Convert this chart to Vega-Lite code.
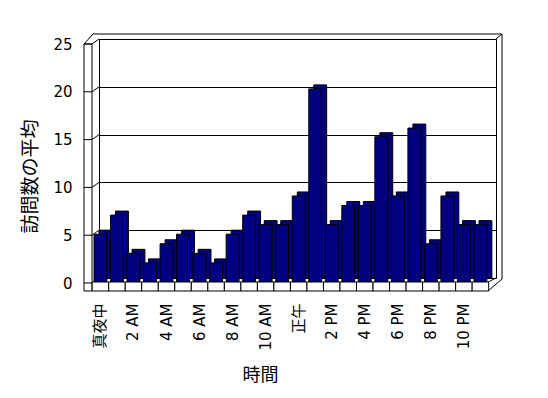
{
  "$schema": "https://vega.github.io/schema/vega-lite/v6.json",
  "width": 397,
  "height": 239,
  "autosize": {"type": "none"},
  "padding": {"left": 99, "top": 39, "right": 52, "bottom": 120},
  "background": "white",
  "config": {
    "view": {"stroke": "black", "strokeWidth": 1},
    "font": "DejaVu Sans, Noto Sans CJK JP",
    "axis": {"labelFont": "DejaVu Sans, Noto Sans CJK JP", "titleFont": "Noto Sans CJK JP", "labelColor": "black", "titleColor": "black"}
  },
  "datasets": {
    "visits": [
      {"hour": 0, "avg": 5}, {"hour": 1, "avg": 7}, {"hour": 2, "avg": 3}, {"hour": 3, "avg": 2},
      {"hour": 4, "avg": 4}, {"hour": 5, "avg": 5}, {"hour": 6, "avg": 3}, {"hour": 7, "avg": 2},
      {"hour": 8, "avg": 5}, {"hour": 9, "avg": 7}, {"hour": 10, "avg": 6}, {"hour": 11, "avg": 6},
      {"hour": 12, "avg": 9}, {"hour": 13, "avg": 20.2}, {"hour": 14, "avg": 6}, {"hour": 15, "avg": 8},
      {"hour": 16, "avg": 8}, {"hour": 17, "avg": 15.2}, {"hour": 18, "avg": 9}, {"hour": 19, "avg": 16.1},
      {"hour": 20, "avg": 4}, {"hour": 21, "avg": 9}, {"hour": 22, "avg": 6}, {"hour": 23, "avg": 6}
    ],
    "walls": [{"v": 0}, {"v": 5}, {"v": 10}, {"v": 15}, {"v": 20}, {"v": 25}]
  },
  "resolve": {"scale": {"x": "independent"}},
  "layer": [
    {
      "data": {"values": [{}]},
      "layer": [
        {
          "mark": {"type": "rect", "fill": "white", "stroke": "black", "strokeWidth": 1, "xOffset": -15, "x2Offset": -7, "yOffset": 5, "y2Offset": 13},
          "encoding": {
            "x": {"datum": 0, "type": "quantitative", "scale": {"domain": [0, 1]}, "axis": null},
            "x2": {"datum": 0},
            "y": {"datum": 25, "type": "quantitative"},
            "y2": {"datum": 0}
          }
        },
        {
          "data": {"name": "walls"},
          "mark": {"type": "rule", "color": "black", "strokeWidth": 1, "xOffset": -15, "x2Offset": -7, "yOffset": 5, "y2Offset": 5},
          "encoding": {
            "x": {"datum": 0, "type": "quantitative", "scale": {"domain": [0, 1]}, "axis": null},
            "x2": {"datum": 0},
            "y": {"field": "v", "type": "quantitative"},
            "y2": {"field": "v"}
          }
        },
        {
          "data": {"name": "walls"},
          "mark": {"type": "rule", "color": "black", "strokeWidth": 1, "xOffset": -7, "x2Offset": 0, "yOffset": 5, "y2Offset": 0},
          "encoding": {
            "x": {"datum": 0, "type": "quantitative", "scale": {"domain": [0, 1]}, "axis": null},
            "x2": {"datum": 0},
            "y": {"field": "v", "type": "quantitative"},
            "y2": {"field": "v"}
          }
        },
        {
          "mark": {"type": "rule", "color": "black", "strokeWidth": 1, "xOffset": -6, "x2Offset": 6, "yOffset": -5, "y2Offset": -5},
          "encoding": {
            "x": {"datum": 0, "type": "quantitative", "scale": {"domain": [0, 1]}, "axis": null},
            "x2": {"datum": 1},
            "y": {"datum": 25, "type": "quantitative"},
            "y2": {"datum": 25}
          }
        },
        {
          "mark": {"type": "rule", "color": "black", "strokeWidth": 1, "xOffset": -15, "x2Offset": -6, "yOffset": 5, "y2Offset": -5},
          "encoding": {
            "x": {"datum": 0, "type": "quantitative", "scale": {"domain": [0, 1]}, "axis": null},
            "x2": {"datum": 0},
            "y": {"datum": 25, "type": "quantitative"},
            "y2": {"datum": 25}
          }
        },
        {
          "mark": {"type": "rule", "color": "black", "strokeWidth": 1, "xOffset": 6, "x2Offset": 6, "yOffset": -5, "y2Offset": 1},
          "encoding": {
            "x": {"datum": 1, "type": "quantitative", "scale": {"domain": [0, 1]}, "axis": null},
            "x2": {"datum": 1},
            "y": {"datum": 25, "type": "quantitative"},
            "y2": {"datum": 0}
          }
        },
        {
          "mark": {"type": "rule", "color": "black", "strokeWidth": 1, "xOffset": 0, "x2Offset": 6, "yOffset": 0, "y2Offset": -5},
          "encoding": {
            "x": {"datum": 1, "type": "quantitative", "scale": {"domain": [0, 1]}, "axis": null},
            "x2": {"datum": 1},
            "y": {"datum": 25, "type": "quantitative"},
            "y2": {"datum": 25}
          }
        },
        {
          "mark": {"type": "rule", "color": "black", "strokeWidth": 1, "xOffset": 6, "x2Offset": -8, "yOffset": 1, "y2Offset": 13},
          "encoding": {
            "x": {"datum": 1, "type": "quantitative", "scale": {"domain": [0, 1]}, "axis": null},
            "x2": {"datum": 1},
            "y": {"datum": 0, "type": "quantitative"},
            "y2": {"datum": 0}
          }
        },
        {
          "mark": {"type": "rule", "color": "black", "strokeWidth": 1, "xOffset": 0, "x2Offset": -8, "yOffset": 0, "y2Offset": 4},
          "encoding": {
            "x": {"datum": 1, "type": "quantitative", "scale": {"domain": [0, 1]}, "axis": null},
            "x2": {"datum": 1},
            "y": {"datum": 0, "type": "quantitative"},
            "y2": {"datum": 0}
          }
        }
      ]
    },
    {
      "data": {"name": "visits"},
      "encoding": {
        "x": {
          "field": "hour",
          "type": "ordinal",
          "scale": {"paddingInner": 0.22, "paddingOuter": 0.125, "align": 0, "round": false},
          "axis": {
            "labelAngle": 270,
            "labelExpr": "datum.value == 0 ? '真夜中' : datum.value == 12 ? '正午' : datum.value % 2 == 1 ? '' : datum.value < 12 ? datum.value + ' AM' : (datum.value - 12) + ' PM'",
            "labelFontSize": 15,
            "labelPadding": 25,
            "labelOffset": -5,
            "domain": false,
            "ticks": false,
            "grid": false,
            "title": "時間",
            "titleFontSize": 18,
            "titleFontWeight": "normal",
            "titleX": 161,
            "titleY": 97,
            "titleAlign": "center",
            "titleBaseline": "middle",
            "titleAnchor": null
          }
        },
        "y": {
          "field": "avg",
          "type": "quantitative",
          "scale": {"domain": [0, 25], "nice": false},
          "axis": {
            "values": [0, 5, 10, 15, 20, 25],
            "grid": true,
            "gridColor": "black",
            "gridOpacity": 1,
            "gridWidth": 1,
            "domain": false,
            "ticks": false,
            "labelPadding": 27,
            "labelOffset": 5,
            "labelFontSize": 15,
            "title": "訪問数の平均",
            "titleFontSize": 19,
            "titleFontWeight": "normal",
            "titleAngle": 270,
            "titleX": -69,
            "titleY": 137,
            "titleAlign": "center",
            "titleBaseline": "middle",
            "titleAnchor": null
          }
        }
      },
      "layer": [
        {
          "mark": {"type": "bar", "fill": "#000080", "stroke": "black", "strokeWidth": 1}
        },
        {
          "mark": {"type": "bar", "fill": "#000080", "stroke": "black", "strokeWidth": 1, "xOffset": -5, "x2Offset": -5, "yOffset": 4, "y2Offset": 4}
        },
        {
          "mark": {"type": "bar", "fill": "white", "stroke": "black", "strokeWidth": 1, "width": {"band": 1.282}, "xOffset": -5, "yOffset": 4, "y2Offset": 13},
          "encoding": {
            "y": {"datum": 0, "type": "quantitative"},
            "y2": {"datum": 0}
          }
        }
      ]
    }
  ]
}
